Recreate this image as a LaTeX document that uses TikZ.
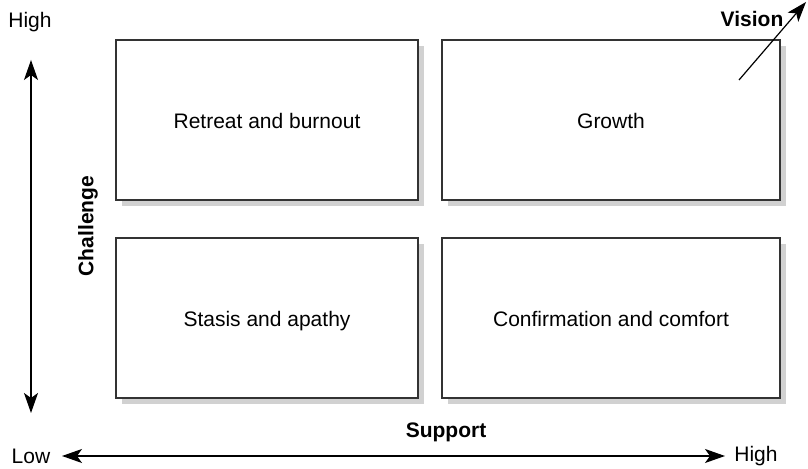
\documentclass[tikz,border=0pt]{standalone}
\usepackage{fontspec}
\setmainfont{Liberation Sans}
\usetikzlibrary{shadows, arrows.meta, positioning, calc}

\tikzset{
  quad/.style={draw=black!80, line width=0.65pt, fill=white,
    minimum height=80pt, inner sep=0pt, text height=10.6pt, text depth=2.2pt,
    drop shadow={shadow xshift=3.2pt, shadow yshift=-3.2pt, fill=black!18, opacity=1}},
  tip/.tip={Stealth[length=10pt,width=7pt,inset=2.5pt]},
  axis/.style={line width=0.6pt, -tip},
  lbl/.style={font=\fontsize{10.5}{12}\selectfont},
  blbl/.style={font=\fontsize{10.5}{12}\selectfont\bfseries}
}

\begin{document}
\begin{tikzpicture}[x=0.5pt, y=0.5pt]
      \useasboundingbox (0,0) rectangle (808,469);
      % the four quadrants
      \node[quad, minimum width=151pt, lbl] (RB) at (267,349) {Retreat and burnout};
      \node[quad, minimum width=169pt, lbl] (GR) at (611,349) {Growth};
      \node[quad, minimum width=151pt, lbl] (SA) at (267,151) {Stasis and apathy};
      \node[quad, minimum width=169pt, lbl] (CC) at (611,151) {Confirmation and comfort};

      % challenge axis
      \node[lbl] (CHi) at (30,447) {High};
      \coordinate (C1) at (31,56);
      \coordinate (C2) at (31,409);
      \draw[axis, tip-tip] (C1) -- (C2);
      \node[blbl, rotate=90] (Chal) at (88,243) {Challenge};

      % support axis
      \node[lbl] (SLo) at (31,13) {Low};
      \node[lbl] (SHi) at (756,13) {High};
      \coordinate (S1) at (62,13);
      \coordinate (S2) at (725,13);
      \draw[axis, tip-tip] (S1) -- (S2);
      \node[blbl] (Sup) at (446,37) {Support};

      % vision
      \node[blbl] (Vis) at (752,450) {Vision};
      \coordinate (V1) at (739,389);
      \coordinate (V2) at (806,467);
      \draw[axis] (V1) -- (V2);
\end{tikzpicture}
\end{document}
